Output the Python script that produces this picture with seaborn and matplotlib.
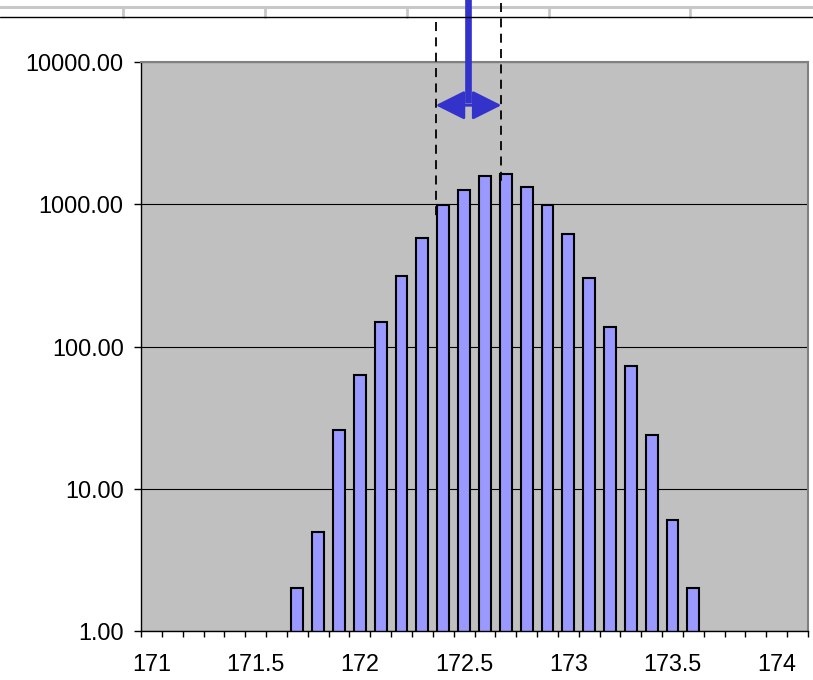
import numpy as np
import pandas as pd
import seaborn as sns
import matplotlib.pyplot as plt
import matplotlib.transforms as mtransforms
from matplotlib.lines import Line2D
from matplotlib.ticker import FixedLocator, NullLocator

# категории на оста x (стъпка 0.1, етикет на всяка пета)
axis_bins = [171.0, 171.1, 171.2, 171.3, 171.4, 171.5, 171.6, 171.7, 171.8, 171.9,
             172.0, 172.1, 172.2, 172.3, 172.4, 172.5, 172.6, 172.7, 172.8, 172.9,
             173.0, 173.1, 173.2, 173.3, 173.4, 173.5, 173.6, 173.7, 173.8, 173.9,
             174.0, 174.1]
bins = [171.7, 171.8, 171.9, 172.0, 172.1, 172.2, 172.3, 172.4, 172.5, 172.6,
        172.7, 172.8, 172.9, 173.0, 173.1, 173.2, 173.3, 173.4, 173.5, 173.6]
counts = [2, 5, 26, 63, 148, 312, 578, 990, 1263, 1577,
          1629, 1313, 986, 616, 301, 137, 73, 24, 6, 2]
xtick_values = [171.0, 171.5, 172.0, 172.5, 173.0, 173.5, 174.0]
xtick_labels = ['171', '171.5', '172', '172.5', '173', '173.5', '174']
ytick_values = [1, 10, 100, 1000, 10000]
ytick_labels = ['1.00', '10.00', '100.00', '1000.00', '10000.00']

# прозорец, отбелязан с пунктир и стрелка
window_lo, window_hi, window_mid = 172.364, 172.679, 172.517

STEP = 0.1


def to_idx(v):
    return (v - axis_bins[0]) / STEP


df = pd.DataFrame({'bin': [f'{v:.1f}' for v in bins], 'count': counts})
order = [f'{v:.1f}' for v in axis_bins]

sns.set_theme(style='ticks')
plt.rcParams['font.family'] = ['Liberation Sans', 'DejaVu Sans']

fig = plt.figure(figsize=(8.13, 6.8), dpi=100)
ax = fig.add_axes([141 / 813, 1 - 631 / 680, 667 / 813, 569 / 680])
ax.set_facecolor('#C0C0C0')

sns.barplot(data=df, x='bin', y='count', order=order, color='#9999FF',
            saturation=1, edgecolor='black', linewidth=1.5, width=0.57, ax=ax)

ax.set_yscale('log')
ax.set_ylim(1, 10000)
ax.set_xlim(-0.5, len(axis_bins) - 0.5)

ax.set_yticks(ytick_values, ytick_labels)
ax.yaxis.set_minor_locator(NullLocator())
ax.set_xticks([to_idx(v) for v in xtick_values], xtick_labels)
ax.xaxis.set_minor_locator(FixedLocator(np.arange(-0.5, len(axis_bins), 1)))

ax.tick_params(axis='y', which='major', length=5, width=1, color='black',
               labelsize=16.8, pad=7.5, labelcolor='black')
ax.tick_params(axis='x', which='major', length=0, labelsize=16.8, pad=16,
               labelcolor='black')
ax.tick_params(axis='x', which='minor', length=4, width=1, color='black')

ax.yaxis.grid(True, which='major', color='black', lw=0.8)
ax.set_axisbelow(True)
ax.set_xlabel('')
ax.set_ylabel('')

for side in ['left', 'bottom']:
    ax.spines[side].set_color('black')
    ax.spines[side].set_linewidth(1)
for side in ['top', 'right']:
    ax.spines[side].set_visible(True)
    ax.spines[side].set_color('#808080')
    ax.spines[side].set_linewidth(1.5)

# пунктирни линии и синя стрелка (x в данни, y в дял от осите)
trans = mtransforms.blended_transform_factory(ax.transData, ax.transAxes)
ax.plot([to_idx(window_lo)] * 2, [1.070, 0.724], transform=trans,
        color='black', lw=1.3, ls=(0, (5, 3.5)), clip_on=False, zorder=5)
ax.plot([to_idx(window_hi)] * 2, [1.104, 0.782], transform=trans,
        color='black', lw=1.3, ls=(0, (5, 3.5)), clip_on=False, zorder=5)
ax.plot([to_idx(window_mid)] * 2, [1.12, 0.928], transform=trans,
        color='#3333CC', lw=4.8, clip_on=False, zorder=6, solid_capstyle='butt')
ax.annotate('', xy=(to_idx(window_lo), 0.924), xytext=(to_idx(window_hi), 0.924),
            xycoords=trans, textcoords=trans, annotation_clip=False, zorder=6,
            arrowprops=dict(arrowstyle='<|-|>,head_length=0.9,head_width=0.45',
                            color='#3333CC', lw=2, mutation_scale=20,
                            shrinkA=0, shrinkB=0))

# линии на работния лист над диаграмата
fig.add_artist(Line2D([0, 1], [1 - 7 / 680] * 2, color='#C8C8C8', lw=2.2, zorder=0))
fig.add_artist(Line2D([0, 1], [1 - 17 / 680] * 2, color='black', lw=1, zorder=1))
for xp in [123, 265, 407, 548.5, 690]:
    fig.add_artist(Line2D([xp / 813] * 2, [1 - 7 / 680, 1 - 17 / 680],
                          color='#C8C8C8', lw=2, zorder=0))

fig.savefig('out.png', dpi=100)
plt.close(fig)
